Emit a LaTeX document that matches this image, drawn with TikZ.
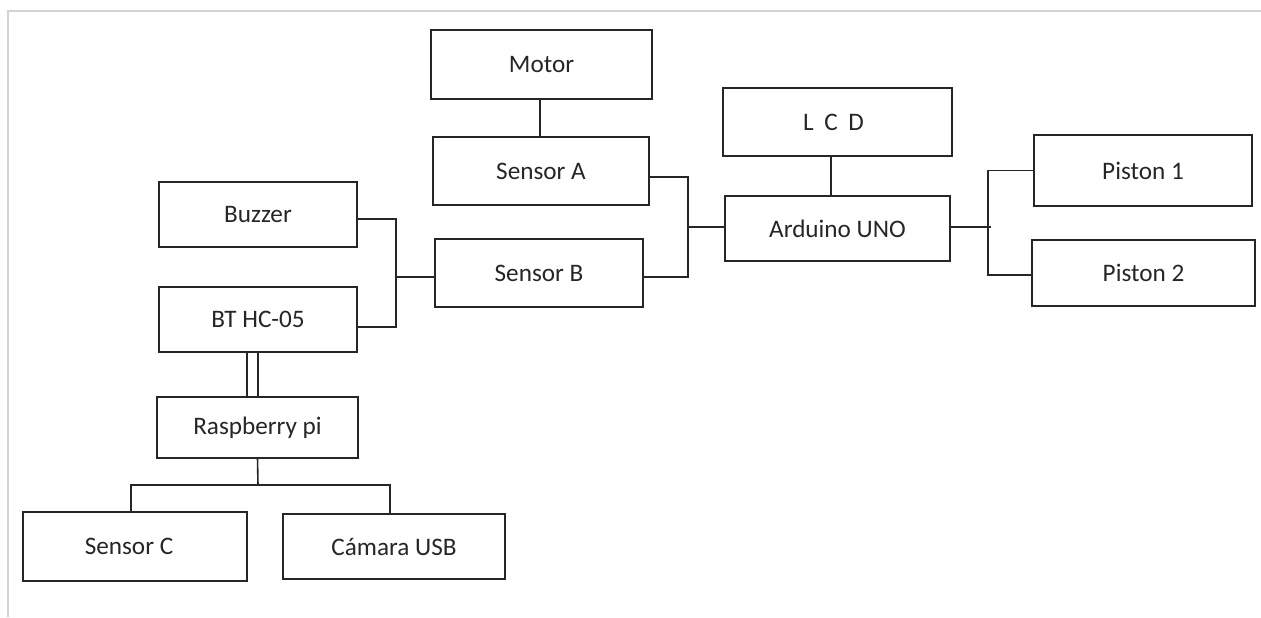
\documentclass[tikz,border=0pt]{standalone}
\usepackage{fontspec}
\setmainfont{Carlito}
\definecolor{ink}{HTML}{262626}
\definecolor{frame}{HTML}{D4D4D4}
\begin{document}
\begin{tikzpicture}[x=0.5pt,y=-0.5pt,
  box/.style={draw=ink, line width=1.2pt, inner sep=0pt, outer sep=0pt,
    text=ink, font=\fontsize{12.6}{15}\selectfont},
  wire/.style={draw=ink, line width=0.8pt}]
\useasboundingbox (0,0) rectangle (1261,617);
\draw[frame, line width=1pt] (1261,11) -- (8,11) -- (8,617);
% boxes
\node[box, minimum width=110.5pt, minimum height=34.5pt] (Motor) at (541.5,64.5) {Motor};
\node[box, minimum width=108pt, minimum height=34pt] (SensorA) at (541,171) {Sensor A};
\node[box, minimum width=114.5pt, minimum height=34pt] (LCD) at (837.5,122) {\hspace*{-4pt}L\hspace{0.42em}C\hspace{0.42em}D};
\node[box, minimum width=112.5pt, minimum height=32.5pt] (Arduino) at (837.5,228.5) {Arduino UNO};
\node[box, minimum width=99pt, minimum height=32.5pt] (Buzzer) at (258,214.5) {Buzzer};
\node[box, minimum width=104pt, minimum height=34pt] (SensorB) at (539,273) {Sensor B};
\node[box, minimum width=99pt, minimum height=32.5pt] (BT) at (258,319.5) {BT HC-05};
\node[box, minimum width=109pt, minimum height=35.5pt] (Piston1) at (1143,170.5) {Piston 1};
\node[box, minimum width=111.5pt, minimum height=33pt] (Piston2) at (1143.5,273) {Piston 2};
\node[box, minimum width=100.5pt, minimum height=30.5pt] (Raspberry) at (257.5,427.5) {Raspberry pi};
\node[box, minimum width=112pt, minimum height=34.5pt] (SensorC) at (135,546.5) {\hspace*{-6pt}Sensor C};
\node[box, minimum width=111pt, minimum height=32.5pt] (Camara) at (394,546.5) {Cámara USB};
% junctions
\coordinate (j1) at (396,277);
\coordinate (j2) at (688,227);
\coordinate (j3) at (988,227);
\coordinate (j4) at (258,485);
% connectors
\draw[wire] ([xshift=-0.75pt]Motor.south) -- ([xshift=-0.75pt]Motor.south |- SensorA.north);
\draw[wire] ([xshift=-3.25pt]LCD.south) -- ([xshift=-3.25pt]LCD.south |- Arduino.north);
\draw[wire] ([yshift=-2.25pt]Buzzer.east) -| (j1) |- ([yshift=-3.75pt]BT.east);
\draw[wire] (j1) -- (j1 -| SensorB.west);
\draw[wire] ([yshift=-3pt]SensorA.east) -| (j2) |- ([yshift=-2pt]SensorB.east);
\draw[wire] (j2) -- (j2 -| Arduino.west);
\draw[wire] (j3 -| Arduino.east) -- ([xshift=1.5pt]j3);
\draw[wire] (Piston1.west) -| (j3) |- ([yshift=-1pt]Piston2.west);
\draw[wire] ([xshift=-5.5pt]BT.south) -- ([xshift=-5.5pt]BT.south |- Raspberry.north);
\draw[wire, line width=1.2pt] (BT.south) -- (BT.south |- Raspberry.north);
\draw[wire] (Raspberry.south) -- (j4);
\draw[wire] ([xshift=-2pt]SensorC.north) |- (j4) -| ([xshift=-2pt]Camara.north);
\end{tikzpicture}
\end{document}
